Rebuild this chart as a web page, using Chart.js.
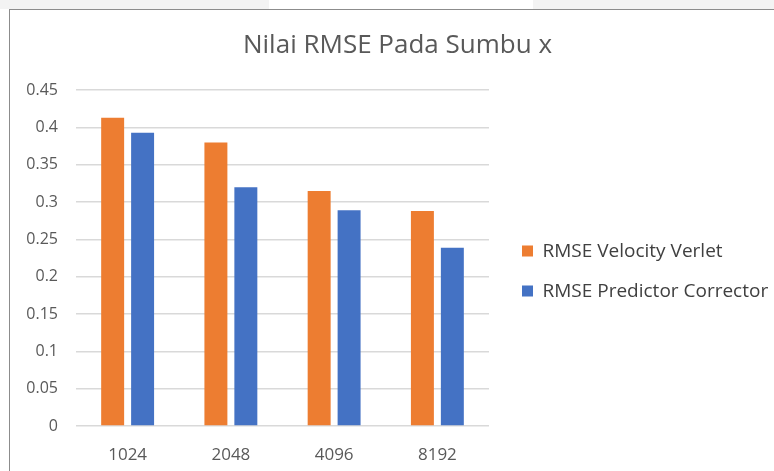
<!DOCTYPE html>
<html>
<head>
<meta charset="utf-8">
<script src="https://cdn.jsdelivr.net/npm/chart.js@4"></script>
<style>
    html, body { margin: 0; padding: 0; background: #ffffff; }
    body { width: 774px; height: 471px; position: relative; overflow: hidden; }
    .strip { position: absolute; left: 0; top: 0; width: 774px; height: 9px; background: #f3f3f3; }
    .strip-white { position: absolute; left: 269px; top: 0; width: 264px; height: 9px; background: #ffffff; }
    .frame { position: absolute; left: 9px; top: 9px; width: 770px; height: 470px;
             border-left: 1px solid #8c8c8c; border-top: 1px solid #8c8c8c; }
    .wrap { position: absolute; left: 10px; top: 10px; width: 764px; height: 461px; }
</style>
</head>
<body>

<div class="strip"></div>
<div class="strip-white"></div>
<div class="frame"></div>
<div class="wrap"><canvas id="rmseChart" width="764" height="461"></canvas></div>

<script>

// DATA

const categories = ["1024", "2048", "4096", "8192"];
const seriesNames = ["RMSE Velocity Verlet", "RMSE Predictor Corrector"];
const velocityVerlet = [0.413, 0.380, 0.315, 0.288];
const predictorCorrector = [0.393, 0.320, 0.289, 0.239];

const textGrey = "#595959";
const fontFamily = "'Open Sans', 'Liberation Sans', sans-serif";


// LEGEND NUDGE (moves the legend away from the plot a bit)

const legendNudge = {
    id: "legendNudge",
    beforeInit(chart) {
        const origFit = chart.legend.fit;
        chart.legend.fit = function () {
            origFit.call(this);
            this.width = 285;
        };
    },
    afterLayout(chart) {
        const lg = chart.legend;
        lg.left += 12;
        lg.right += 12;
        lg.top += 13;
        lg.bottom += 13;
    }
};


// CHART

const ctx = document.getElementById("rmseChart").getContext("2d");

new Chart(ctx, {

    type: "bar",

    data: {
        labels: categories,
        datasets: [{
            label: seriesNames[0],
            data: velocityVerlet,
            backgroundColor: "#ED7D31",
            barPercentage: 0.767,
            categoryPercentage: 0.58
        }, {
            label: seriesNames[1],
            data: predictorCorrector,
            backgroundColor: "#4472C4",
            barPercentage: 0.767,
            categoryPercentage: 0.58
        }]
    },

    options: {
        responsive: false,
        animation: false,
        layout: { padding: { left: 11, right: 0, top: 0, bottom: 0 } },
        plugins: {
            title: {
                display: true,
                text: "Nilai RMSE Pada Sumbu x",
                color: textGrey,
                font: { family: fontFamily, size: 26, weight: "normal" },
                padding: { top: 20, bottom: 29 }
            },
            legend: {
                position: "right",
                fullSize: false,
                labels: {
                    boxWidth: 11,
                    boxHeight: 11,
                    padding: 21,
                    color: "#404040",
                    font: { family: fontFamily, size: 19 }
                }
            },
            tooltip: { enabled: false }
        },
        scales: {
            x: {
                grid: { display: false },
                border: { display: false },
                ticks: {
                    color: textGrey,
                    padding: 11,
                    font: { family: fontFamily, size: 17 }
                },
                afterFit(scale) { scale.height = 45; }
            },
            y: {
                min: 0,
                max: 0.45,
                grid: { color: "#d9d9d9", lineWidth: 1.5, drawTicks: false },
                border: { display: false },
                ticks: {
                    stepSize: 0.05,
                    color: textGrey,
                    padding: 18,
                    font: { family: fontFamily, size: 16 },
                    callback: (v) => +v.toFixed(2)
                },
                afterFit(scale) { scale.width = 55; }
            }
        }
    },

    plugins: [legendNudge]

});

</script>
</body>
</html>
